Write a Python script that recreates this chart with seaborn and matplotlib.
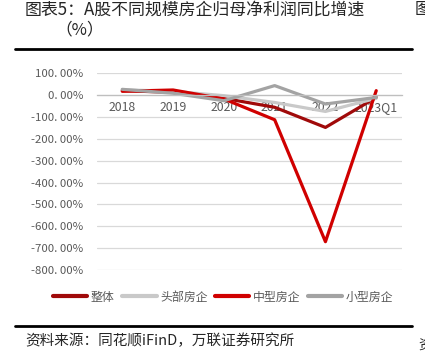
import numpy as np
import pandas as pd
import seaborn as sns
import matplotlib.pyplot as plt
from matplotlib.lines import Line2D

# data (percent)
years = ['2018', '2019', '2020', '2021', '2022', '2023Q1']
series_names = ['整体', '头部房企', '中型房企', '小型房企']
overall = [20, 12, -15, -56, -148, -11]
head = [24, 17, -3, -34, -75, -15]
mid = [17, 23, -18, -113, -670, 20]
small = [26, 8, -26, 43, -41, -11]
colors = ['#A00A0A', '#C9C9C9', '#D00000', '#A3A3A3']

sns.set_style('white')
plt.rcParams['font.family'] = ['Noto Sans CJK SC', 'DejaVu Sans']

df = pd.DataFrame({
    'year': years * 4,
    'x': list(range(len(years))) * 4,
    'value': overall + head + mid + small,
    'series': sum([[s] * len(years) for s in series_names], []),
})

fig = plt.figure(figsize=(4.25, 3.55), dpi=100)
ax = fig.add_axes([0.228, 0.239, 0.717, 0.555])

sns.lineplot(data=df, x='x', y='value', hue='series', hue_order=series_names,
             palette=colors, linewidth=2.3, ax=ax, legend=False, sort=False)

ax.set_xlim(-0.5, len(years) - 0.5)
ax.set_ylim(-800, 100)
yt = np.arange(-800, 101, 100)
ax.set_yticks(yt)
ax.set_yticklabels([f'{v:.2f}%'.replace('.', '. ') for v in yt])
ax.set_xticks(range(len(years)))
ax.set_xticklabels(years)
ax.set_xticks(np.arange(-0.5, len(years)), minor=True)
ax.set_xlabel('')
ax.set_ylabel('')

ax.grid(axis='y', color='#D9D9D9', linewidth=0.9)
ax.set_axisbelow(True)
for s in ['top', 'right', 'left']:
    ax.spines[s].set_visible(False)
ax.spines['bottom'].set_position(('data', 0))
ax.spines['bottom'].set_color('#BFBFBF')
ax.spines['bottom'].set_linewidth(0.9)
ax.tick_params(axis='x', which='major', length=0, labelsize=8.8, colors='#595959', pad=4)
ax.tick_params(axis='x', which='minor', direction='in', length=4, color='#BFBFBF')
ax.tick_params(axis='y', length=0, labelsize=8.2, colors='#595959', pad=10)

handles = [Line2D([0], [0], color=c, linewidth=3) for c in colors]
fig.legend(handles, series_names, loc='center', bbox_to_anchor=(0.525, 0.163), ncol=4,
           frameon=False, fontsize=8.6, handlelength=2.9, handletextpad=0.3,
           columnspacing=0.6, labelcolor='#595959')

# header / footer decoration
fig.text(0.059, 0.972, '图表5：A股不同规模房企归母净利润同比增速', fontsize=12.2, va='center')
fig.text(0.13, 0.915, '（%）', fontsize=12, va='center')
fig.text(0.975, 0.972, '图', fontsize=12, va='center')
fig.add_artist(Line2D([0.035, 0.97], [0.862, 0.862], color='black', linewidth=2))
fig.add_artist(Line2D([0.035, 0.97], [0.082, 0.082], color='black', linewidth=2))
fig.text(0.059, 0.04, '资料来源：同花顺iFinD，万联证券研究所', fontsize=10.5, style='italic', va='center')
fig.text(0.985, 0.03, '资', fontsize=10, style='italic', va='center')

fig.savefig('out.png', dpi=100)
